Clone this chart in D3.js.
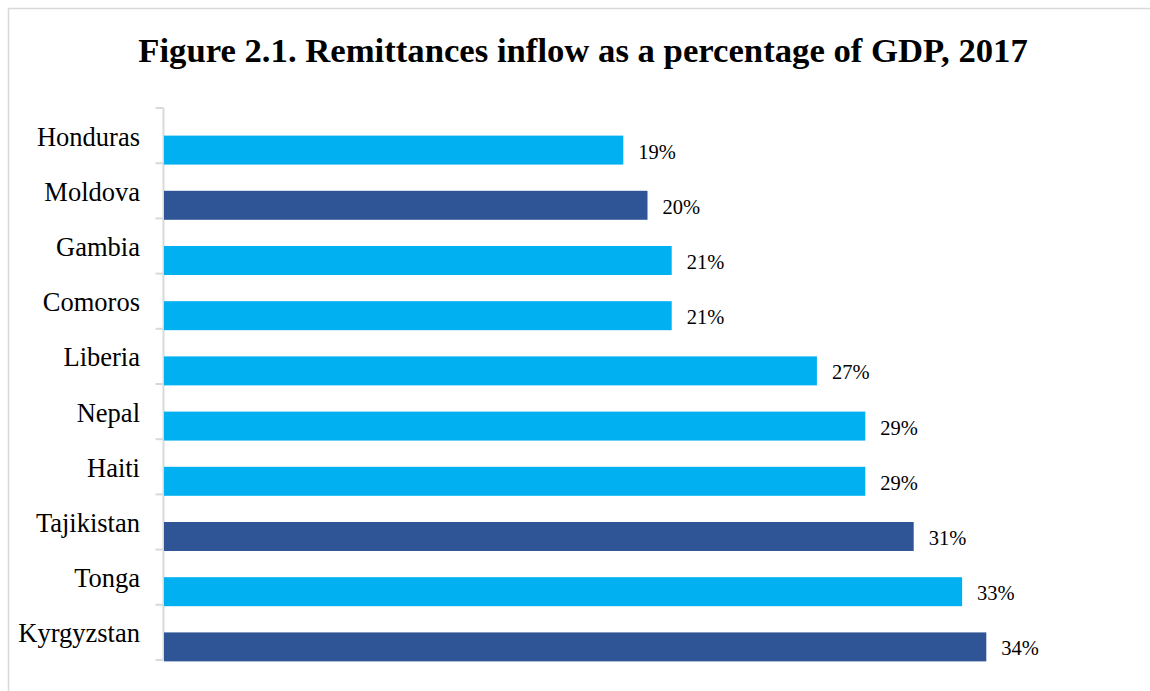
<!DOCTYPE html>
<html>
<head>
<meta charset="utf-8">
<script src="https://cdn.jsdelivr.net/npm/d3@7"></script>
<style>
  html, body { margin: 0; padding: 0; background: #fff; }
  svg { display: block; font-family: "Liberation Serif", "Times New Roman", serif; }
</style>
</head>
<body>
<svg id="chart" width="1150" height="691"></svg>
<script>
// Remittances inflow as a percentage of GDP, 2017
const countries = ["Honduras", "Moldova", "Gambia", "Comoros", "Liberia", "Nepal", "Haiti", "Tajikistan", "Tonga", "Kyrgyzstan"];
const shareOfGDP = [19, 20, 21, 21, 27, 29, 29, 31, 33, 34];
const highlighted = ["Moldova", "Tajikistan", "Kyrgyzstan"];

const LIGHT = "#00B0F0", DARK = "#2F5597", GRID = "#d9d9d9";

const svg = d3.select("#chart");
const data = countries.map((c, i) => ({ country: c, value: shareOfGDP[i] }));

// chart frame
svg.append("rect")
  .attr("x", 8.5).attr("y", 8.5)
  .attr("width", 1300).attr("height", 1000)
  .attr("fill", "none").attr("stroke", GRID).attr("stroke-width", 1.5);

// title
svg.append("text")
  .attr("x", 583).attr("y", 62)
  .attr("text-anchor", "middle")
  .attr("font-size", 34.7).attr("font-weight", "bold")
  .attr("fill", "#000")
  .text("Figure 2.1. Remittances inflow as a percentage of GDP, 2017");

const x = d3.scaleLinear().domain([0, 40]).range([163.5, 163.5 + 40 * 24.2]);
const y = d3.scaleBand().domain(countries).range([108, 660]).paddingInner(0).paddingOuter(0);
const bw = y.bandwidth();

// category axis: vertical line with ticks at band boundaries
const axisX = x(0);
const g = svg.append("g");
g.append("line")
  .attr("x1", axisX).attr("x2", axisX)
  .attr("y1", y.range()[0]).attr("y2", y.range()[1])
  .attr("stroke", GRID).attr("stroke-width", 2);
const boundaries = countries.map(c => y(c)).concat([y.range()[1]]);
g.selectAll("line.tick").data(boundaries).join("line")
  .attr("class", "tick")
  .attr("x1", axisX - 8).attr("x2", axisX)
  .attr("y1", d => d).attr("y2", d => d)
  .attr("stroke", GRID).attr("stroke-width", 2);

// category labels
g.selectAll("text.cat").data(countries).join("text")
  .attr("class", "cat")
  .attr("x", 140)
  .attr("y", d => y(d) + bw / 2 + 10)
  .attr("text-anchor", "end")
  .attr("font-size", 26.5)
  .attr("fill", "#000")
  .text(d => d);

// bars
svg.selectAll("rect.bar").data(data).join("rect")
  .attr("class", "bar")
  .attr("x", axisX + 0.5)
  .attr("y", d => y(d.country) + bw * 0.5)
  .attr("width", d => x(d.value) - axisX - 0.5)
  .attr("height", bw * 0.525)
  .attr("fill", d => highlighted.includes(d.country) ? DARK : LIGHT);

// value labels
svg.selectAll("text.val").data(data).join("text")
  .attr("class", "val")
  .attr("x", d => x(d.value) + 15)
  .attr("y", d => y(d.country) + bw * 0.5 + bw * 0.2625 + 8.5)
  .attr("font-size", 20.5)
  .attr("fill", "#000")
  .text(d => d.value + "%");
</script>
</body>
</html>
